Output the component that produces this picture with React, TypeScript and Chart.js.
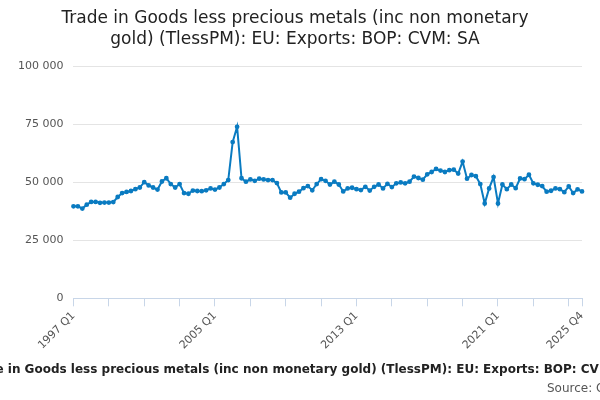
import { useEffect, useRef } from "react";
import { Chart, registerables } from "chart.js";

Chart.register(...registerables);

const FONT = "DejaVu Sans, Verdana, sans-serif";

const years: number[] = [];
for (let y = 1997; y <= 2025; y++) years.push(y);
const quarters = years.flatMap((y) => [1, 2, 3, 4].map((q) => `${y} Q${q}`));

const exports = [
  39700, 39700, 38700, 40400, 41600, 41600, 41200, 41300,
  41300, 41500, 43700, 45400, 45900, 46300, 47100, 47800,
  50100, 48700, 47800, 46900, 50400, 51800, 49300, 47800,
  49300, 45400, 45100, 46500, 46300, 46200, 46600, 47400,
  46900, 47800, 49300, 51000, 67400, 74000, 51800, 50300,
  51300, 50700, 51600, 51300, 51000, 51000, 49700, 45700,
  45700, 43400, 45100, 46000, 47500, 48400, 46600, 49300,
  51400, 50700, 49100, 50300, 49100, 46100, 47400, 47700,
  47100, 46700, 48100, 46500, 48100, 49100, 47400, 49400,
  48000, 49600, 50000, 49600, 50300, 52500, 51900, 51200,
  53500, 54500, 55800, 55100, 54500, 55300, 55500, 53800,
  59000, 51600, 53200, 52700, 49300, 40900, 47400, 52300,
  40900, 49100, 47100, 49100, 47500, 51700, 51400, 53300,
  49600, 49000, 48400, 46000, 46400, 47400, 47100, 45800,
  48300, 45400, 47000, 46100,
];

const labelledTicks = ["1997 Q1", "2005 Q1", "2013 Q1", "2021 Q1", "2025 Q4"];
const axisTitle =
  "Trade in Goods less precious metals (inc non monetary gold) (TlessPM): EU: Exports: BOP: CVM: SA";

const footerPlugin = {
  id: "footer",
  afterDraw(chart: Chart) {
    const ctx = chart.ctx;
    ctx.save();
    ctx.textBaseline = "middle";
    ctx.font = `bold 12px ${FONT}`;
    ctx.fillStyle = "#222";
    ctx.textAlign = "left";
    ctx.fillText(axisTitle, -34, 370);
    ctx.font = `12px ${FONT}`;
    ctx.fillStyle = "#555";
    ctx.fillText("Source: Office for National Statistics", 547, 389);
    ctx.restore();
  },
};

export default function App() {
  const canvasRef = useRef<HTMLCanvasElement>(null);

  useEffect(() => {
    if (!canvasRef.current) return;
    const last = quarters.length - 1;
    const chart = new Chart(canvasRef.current, {
      type: "line",
      data: {
        labels: quarters,
        datasets: [
          {
            data: exports,
            borderColor: "#0a7bc1",
            backgroundColor: "#0a7bc1",
            borderWidth: 2,
            pointRadius: 1.4,
            tension: 0,
          },
        ],
      },
      options: {
        animation: false,
        responsive: true,
        maintainAspectRatio: false,
        layout: { padding: { left: 8, right: 18, bottom: 45, top: 0 } },
        plugins: {
          legend: { display: false },
          tooltip: { enabled: false },
          title: {
            display: true,
            text: [
              "Trade in Goods less precious metals (inc non monetary",
              "gold) (TlessPM): EU: Exports: BOP: CVM: SA",
            ],
            color: "#222",
            font: { family: FONT, size: 17, weight: "normal", lineHeight: 1.25 },
            padding: { top: 8, bottom: 16 },
          },
        },
        scales: {
          x: {
            offset: false,
            grid: {
              drawOnChartArea: false,
              drawTicks: true,
              tickLength: 8,
              color: "#c8d6e8",
            },
            border: { color: "#c8d6e8" },
            ticks: {
              autoSkip: false,
              maxRotation: 45,
              minRotation: 45,
              color: "#555",
              font: { family: FONT, size: 11 },
              callback: (_v, i) => {
                if (i % 8 !== 0 && i !== last) return null;
                const l = quarters[i];
                return labelledTicks.includes(l) ? l : "";
              },
            },
          },
          y: {
            min: 0,
            max: 100000,
            grid: { color: "#e4e4e4", drawTicks: false },
            border: { display: false },
            ticks: {
              stepSize: 25000,
              padding: 10,
              color: "#555",
              font: { family: FONT, size: 11 },
              callback: (v) => Number(v).toLocaleString("en-US").replace(/,/g, " "),
            },
          },
        },
      },
      plugins: [footerPlugin],
    });
    return () => chart.destroy();
  }, []);

  return (
    <div style={{ position: "fixed", left: 0, top: 0, width: 600, height: 400 }}>
      <canvas ref={canvasRef} />
    </div>
  );
}
